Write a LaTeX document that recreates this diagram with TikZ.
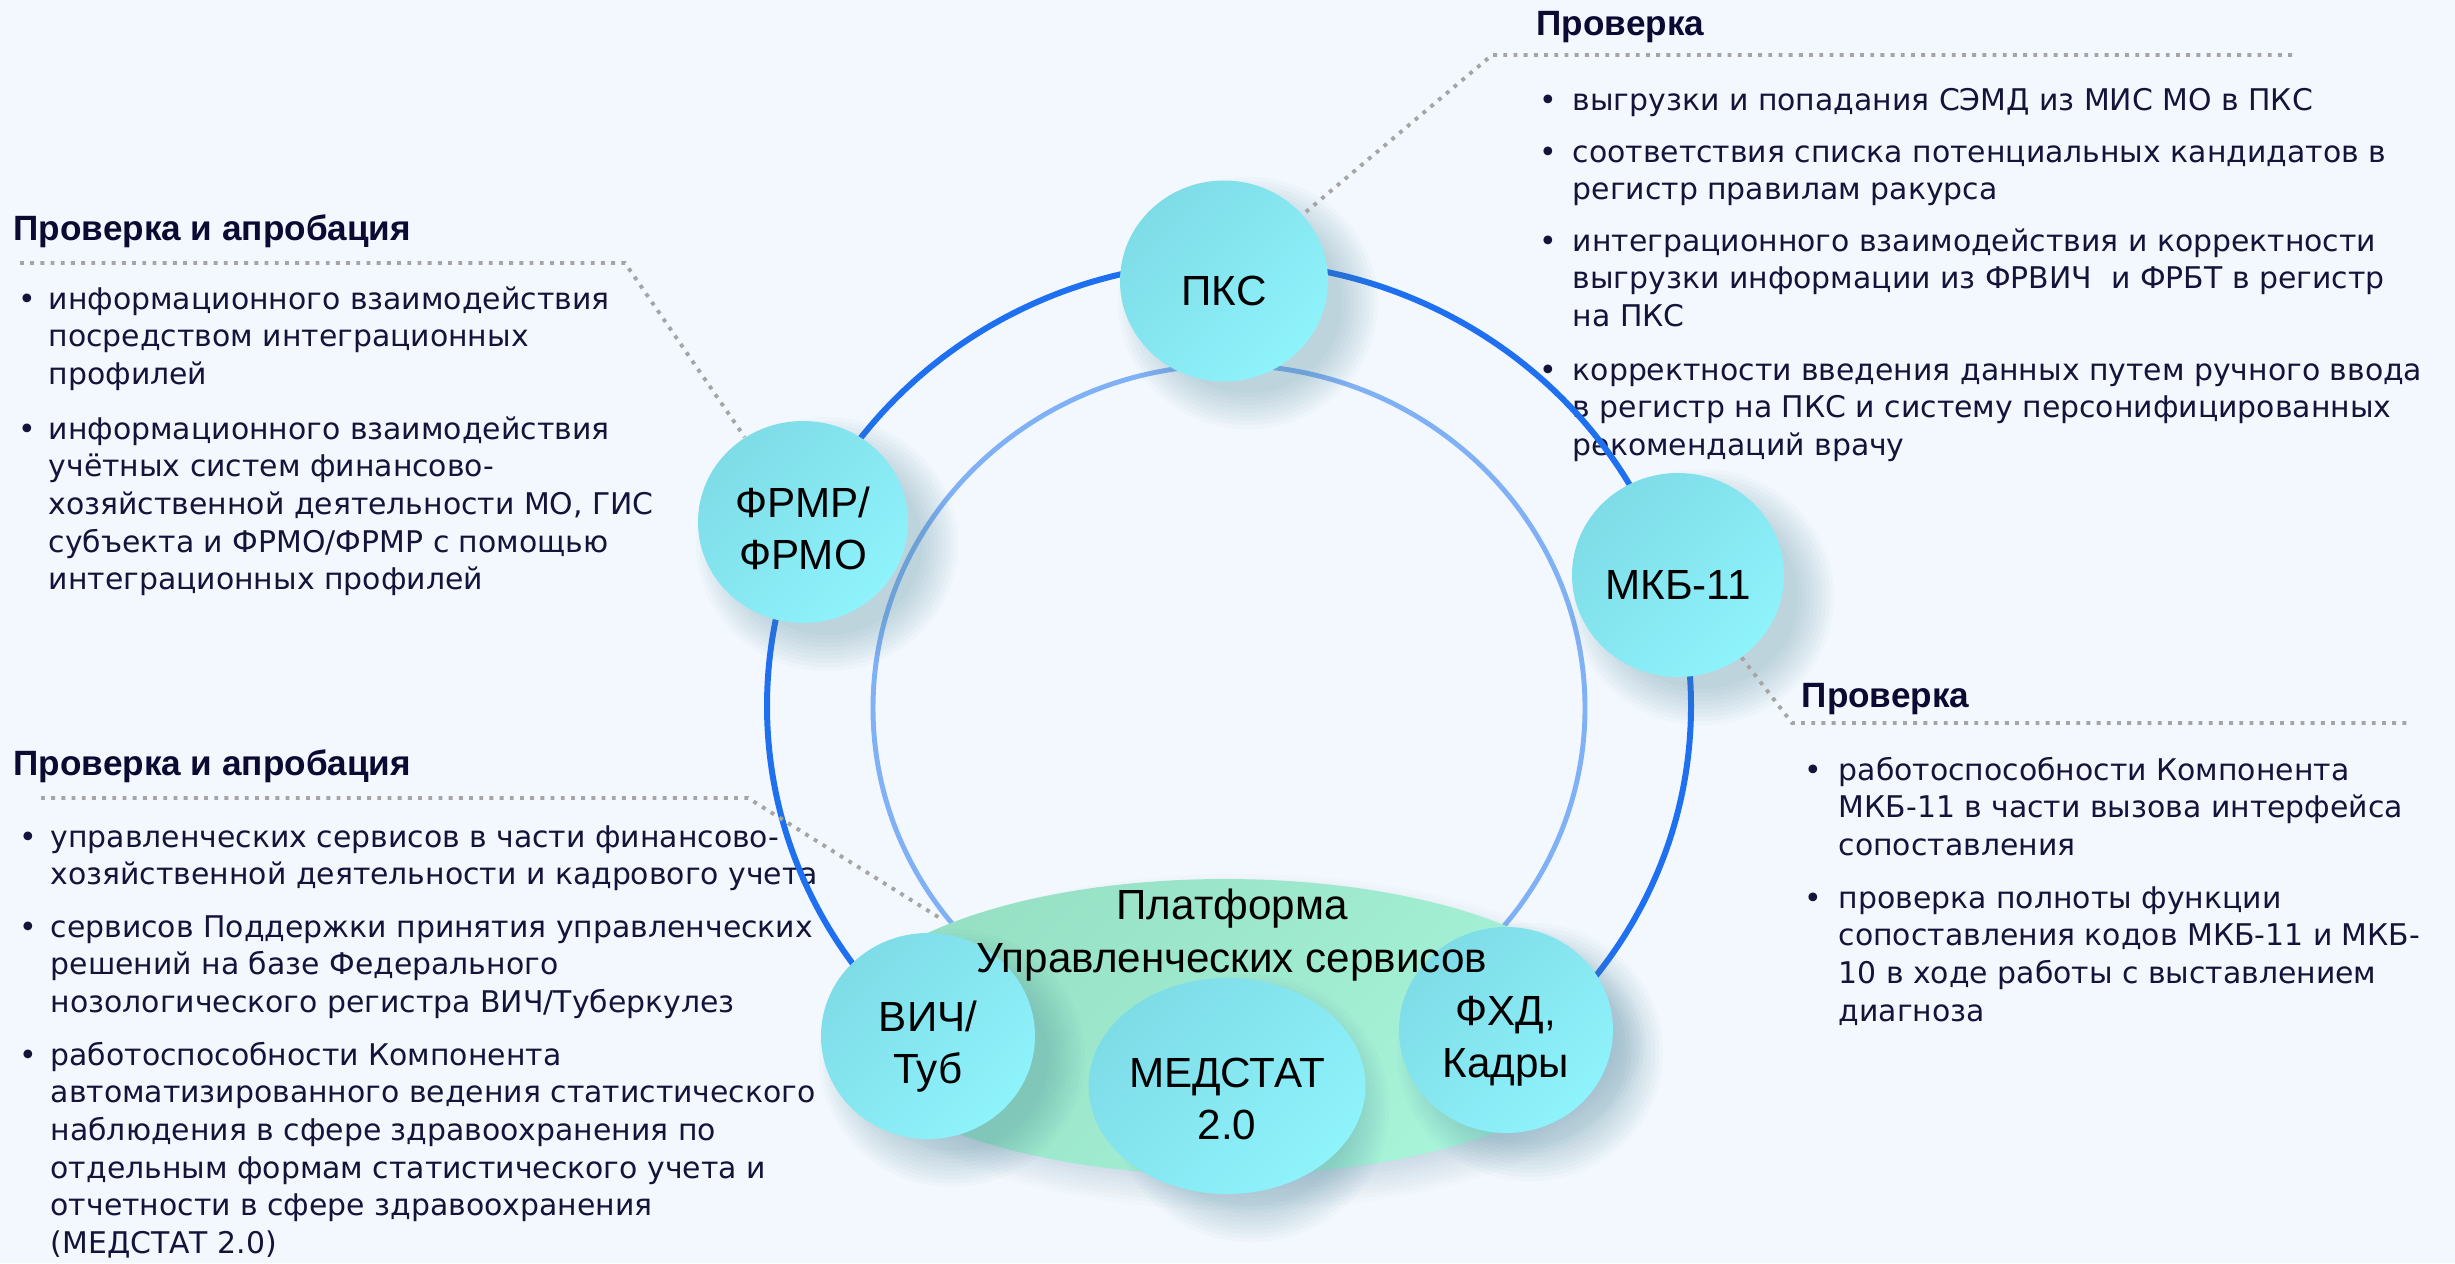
\documentclass[tikz,border=0pt]{standalone}
\usepackage{fontspec}
\newfontfamily\labf{Liberation Sans}
\newfontfamily\bodyf{DejaVu Sans}
\usetikzlibrary{shapes.geometric}
\definecolor{bgc}{RGB}{243,248,254}
\definecolor{ringA}{RGB}{30,112,240}
\definecolor{ringB}{RGB}{128,176,245}
\definecolor{dotc}{RGB}{165,165,165}
\definecolor{nodeA}{RGB}{126,220,231}
\definecolor{nodeB}{RGB}{143,243,252}
\definecolor{platA}{RGB}{150,224,196}
\definecolor{platB}{RGB}{168,245,218}
\definecolor{shc}{RGB}{80,140,160}
\definecolor{textc}{RGB}{20,20,58}
\definecolor{headc}{RGB}{10,10,50}
\newcommand\softshadow[4]{\foreach \k in {0,...,9}{\fill[shc,opacity=0.035] ({#1+24},{#2+22}) ellipse [x radius={#3+26-4*\k}, y radius={#4+26-4*\k}];}}
\begin{document}
\begin{tikzpicture}[x=0.1mm,y=-0.1mm,
  bub/.style={ellipse, inner sep=0pt, top color=nodeA, bottom color=nodeB, shading angle=45, align=center, font=\labf\fontsize{12pt}{14.8pt}\selectfont, text=black, text depth=0pt, text height=#1},
  bub/.default=13.7pt,
  head/.style={anchor=base west, inner sep=0pt, font=\labf\bfseries\fontsize{10pt}{12pt}\selectfont, text=headc},
  btxt/.style={anchor=base west, inner sep=0pt, align=left, font=\bodyf\fontsize{8.5pt}{10.727pt}\selectfont, text=textc},
  dotl/.style={draw=dotc, line width=1.1pt, dash pattern=on 1.1pt off 1.8pt},
  ringone/.style={draw=ringA, line width=1.7pt},
  ringtwo/.style={draw=ringB, line width=1.4pt}]
\fill[bgc] (0,0) rectangle (2455,1263);
\useasboundingbox (0,0) rectangle (2455,1263);

% (multi-line text nodes are placed by the baseline of their last line)
% top-left block
\node[head] (tlh) at (13,240) {Проверка и апробация};
\node[btxt] (tl1b) at (18,309) {•};
\node[btxt] (tl1) at (48,384.4) {информационного взаимодействия\\посредством интеграционных\\профилей};
\node[btxt] (tl2b) at (18,439) {•};
\node[btxt] (tl2) at (48,589.8) {информационного взаимодействия\\учётных систем финансово-\\хозяйственной деятельности МО, ГИС\\субъекта и ФРМО/ФРМР с помощью\\интеграционных профилей};

% top-right block
\node[head] (trh) at (1536,35) {Проверка};
\node[btxt] (tr1b) at (1539,110) {•};
\node[btxt] (tr1) at (1572,110) {выгрузки и попадания СЭМД из МИС МО в ПКС};
\node[btxt] (tr2b) at (1539,162) {•};
\node[btxt] (tr2) at (1572,199.7) {соответствия списка потенциальных кандидатов в\\регистр правилам ракурса};
\node[btxt] (tr3b) at (1539,251) {•};
\node[btxt] (tr3) at (1572,326.4) {интеграционного взаимодействия и корректности\\выгрузки информации из ФРВИЧ\ \ и ФРБТ в регистр\\на ПКС};
\node[btxt] (tr4b) at (1539,380) {•};
\node[btxt] (tr4) at (1572,455.4) {корректности введения данных путем ручного ввода\\в регистр на ПКС и систему персонифицированных\\рекомендаций врачу};

% MKB block
\node[head] (mkh) at (1801,707) {Проверка};
\node[btxt] (mk1b) at (1804,780) {•};
\node[btxt] (mk1) at (1838,855.4) {работоспособности Компонента\\МКБ-11 в части вызова интерфейса\\сопоставления};
\node[btxt] (mk2b) at (1804,908) {•};
\node[btxt] (mk2) at (1838,1021.1) {проверка полноты функции\\сопоставления кодов МКБ-11 и МКБ-\\10 в ходе работы с выставлением\\диагноза};

% bottom-left block
\node[head] (blh) at (13,775) {Проверка и апробация};
\node[btxt] (bl1b) at (19,847) {•};
\node[btxt] (bl1) at (50,884.7) {управленческих сервисов в части финансово-\\хозяйственной деятельности и кадрового учета};
\node[btxt] (bl2b) at (19,937) {•};
\node[btxt] (bl2) at (50,1012.4) {сервисов Поддержки принятия управленческих\\решений на базе Федерального\\нозологического регистра ВИЧ/Туберкулез};
\node[btxt] (bl3b) at (19,1065) {•};
\node[btxt] (bl3) at (50,1253.5) {работоспособности Компонента\\автоматизированного ведения статистического\\наблюдения в сфере здравоохранения по\\отдельным формам статистического учета и\\отчетности в сфере здравоохранения\\(МЕДСТАТ 2.0)};

% rings
\draw[ringone] (1229,706) ellipse [x radius=462, y radius=444];
\draw[ringtwo] (1229,708) ellipse [x radius=356, y radius=343];

% platform ellipse
\foreach \k in {0,...,9}{\fill[shc,opacity=0.025] (1240,1042) ellipse [x radius={385+20-4*\k}, y radius={148+20-4*\k}];}
\node[ellipse, inner sep=0pt, minimum width=77mm, minimum height=29.6mm, top color=platA, bottom color=platB, shading angle=45] (plat) at (1225,1027) {};

% shadows of bubbles
\softshadow{1224}{281}{104}{100}
\softshadow{803}{522}{105}{101}
\softshadow{1678}{575}{106}{102}
\softshadow{928}{1036}{107}{103}
\softshadow{1227}{1086}{112}{108}
\softshadow{1506}{1030}{107}{103}

% bubbles
\node[bub, minimum width=20.8mm, minimum height=20.1mm] (pks) at (1224,281) {ПКС};
\node[bub=27.3pt, minimum width=21mm, minimum height=20.2mm] (frmr) at (803,522) {ФРМР/\\ФРМО};
\node[bub=14.2pt, minimum width=21.2mm, minimum height=20.4mm] (mkb) at (1678,575) {МКБ-11};
\node[bub=26.8pt, minimum width=21.4mm, minimum height=20.6mm] (vich) at (928,1036) {ВИЧ/\\Туб};
\node[bub=30.2pt, minimum width=22.4mm, minimum height=21.6mm] (medstat) at (1227,1086) {МЕДСТАТ\\2.0};
\node[bub=26.8pt, minimum width=21.4mm, minimum height=20.6mm] (fhd) at (1506,1030) {ФХД,\\Кадры};

\node[anchor=base, inner sep=0pt, align=center, font=\labf\fontsize{12pt}{14.8pt}\selectfont, text=black] (platl) at (1232,972) {Платформа\\Управленческих сервисов};

% dotted leaders
\coordinate (tlA) at (20,263);
\coordinate (tlC) at (625,263);
\draw[dotl] (tlA) -- (tlC) -- (frmr);
\coordinate (trA) at (2292,55);
\coordinate (trC) at (1492,55);
\draw[dotl] (trA) -- (trC) -- (pks);
\coordinate (mkC) at (1792,723);
\coordinate (mkA) at (2407,723);
\draw[dotl] (mkb) -- (mkC) -- (mkA);
\coordinate (blA) at (41,798);
\coordinate (blC) at (748,798);
\coordinate (blE) at (943,920);
\draw[dotl] (blA) -- (blC) -- (blE);
\end{tikzpicture}
\end{document}
